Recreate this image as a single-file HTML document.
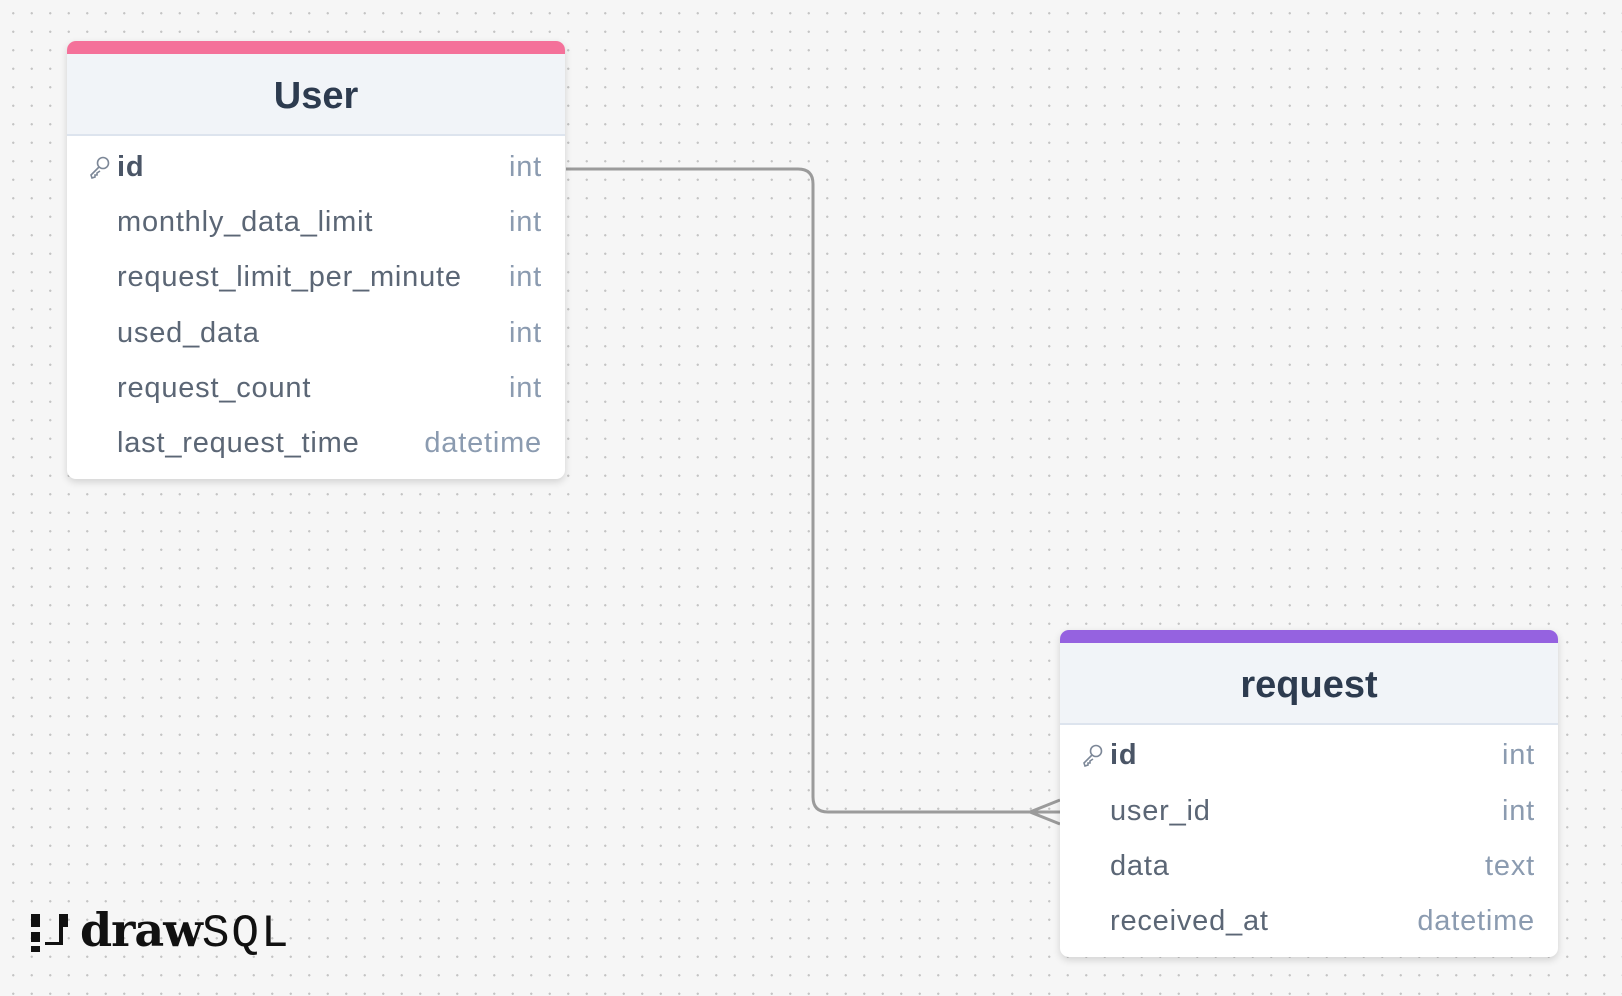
<!DOCTYPE html>
<html><head><meta charset="utf-8"><style>
html,body{margin:0;padding:0}
body{width:1622px;height:996px;position:relative;overflow:hidden;background:#f6f6f6;
background-image:radial-gradient(circle,#c4c4c4 1px,transparent 1.3px);background-size:18.5px 18.5px;background-position:4px 4px;
font-family:"Liberation Sans",sans-serif}
.t{position:absolute;background:#fff;border-radius:9px;box-shadow:0 3px 8px rgba(0,0,0,.15);overflow:hidden}
.bar{height:13px}
.hd{background:#f1f4f8;border-bottom:2px solid #dde4ee;text-align:center;font-weight:bold;color:#2d3b4f;font-size:38px}
.r{position:absolute;left:0;right:0;height:55px;line-height:55px;font-size:29px;letter-spacing:0.8px;color:#5b6675}
.r .n{position:absolute;left:50px}
.r .y{position:absolute;right:23px;color:#8b9bb0}
.r .k{position:absolute;left:20px;top:0}
.r b{color:#4a5566}
</style></head><body>
<svg width="1622" height="996" style="position:absolute;left:0;top:0">
<path d="M566 169 H798 Q813 169 813 184 V797 Q813 812 828 812 H1060" fill="none" stroke="#9b9b9b" stroke-width="3"/>
<path d="M1060 800 L1030 812 L1060 824" fill="none" stroke="#9b9b9b" stroke-width="3"/>
</svg>

<div class="t" style="left:67px;top:41px;width:498px;height:438px">
<div class="bar" style="background:#f4719a"></div>
<div class="hd" style="height:80px;line-height:84px">User</div>
<div class="r" style="top:99px"><span class="k"><svg width="26" height="55" viewBox="0 0 24 55"><g fill="none" stroke="#7c8797" stroke-width="1.6"><circle cx="15" cy="23" r="5.5"/><path d="M11 27 L3 35 L4 38 L7 37 L7 35 L9 35 L9 33 L12 31"/></g></svg></span><span class="n"><b>id</b></span><span class="y">int</span></div>
<div class="r" style="top:154px"><span class="n">monthly_data_limit</span><span class="y">int</span></div>
<div class="r" style="top:209px"><span class="n">request_limit_per_minute</span><span class="y">int</span></div>
<div class="r" style="top:265px"><span class="n">used_data</span><span class="y">int</span></div>
<div class="r" style="top:320px"><span class="n">request_count</span><span class="y">int</span></div>
<div class="r" style="top:375px"><span class="n">last_request_time</span><span class="y">datetime</span></div>
</div>

<div class="t" style="left:1060px;top:630px;width:498px;height:327px">
<div class="bar" style="background:#9562e0"></div>
<div class="hd" style="height:80px;line-height:84px">request</div>
<div class="r" style="top:98px"><span class="k"><svg width="26" height="55" viewBox="0 0 24 55"><g fill="none" stroke="#7c8797" stroke-width="1.6"><circle cx="15" cy="23" r="5.5"/><path d="M11 27 L3 35 L4 38 L7 37 L7 35 L9 35 L9 33 L12 31"/></g></svg></span><span class="n"><b>id</b></span><span class="y">int</span></div>
<div class="r" style="top:154px"><span class="n">user_id</span><span class="y">int</span></div>
<div class="r" style="top:209px"><span class="n">data</span><span class="y">text</span></div>
<div class="r" style="top:264px"><span class="n">received_at</span><span class="y">datetime</span></div>
</div>

<div style="position:absolute;left:31px;top:912px;width:40px;height:42px">
<div style="position:absolute;left:0;top:2px;width:9px;height:13px;background:#111"></div>
<div style="position:absolute;left:0;top:20px;width:9px;height:10px;background:#111"></div>
<div style="position:absolute;left:0;top:34px;width:9px;height:6px;background:#111"></div>
<div style="position:absolute;left:28px;top:2px;width:9px;height:13px;background:#111"></div>
<div style="position:absolute;left:28px;top:15px;width:4px;height:18px;background:#111"></div>
<div style="position:absolute;left:14px;top:30px;width:16px;height:3px;background:#111"></div>
</div>
<div style="position:absolute;left:80px;top:902px;font-size:46px;line-height:56px;color:#111;white-space:nowrap"><span style="font-family:'DejaVu Serif',serif;font-weight:bold;letter-spacing:-1px">draw</span><span style="font-family:'Liberation Mono',monospace;letter-spacing:2px">SQL</span></div>
</body></html>
